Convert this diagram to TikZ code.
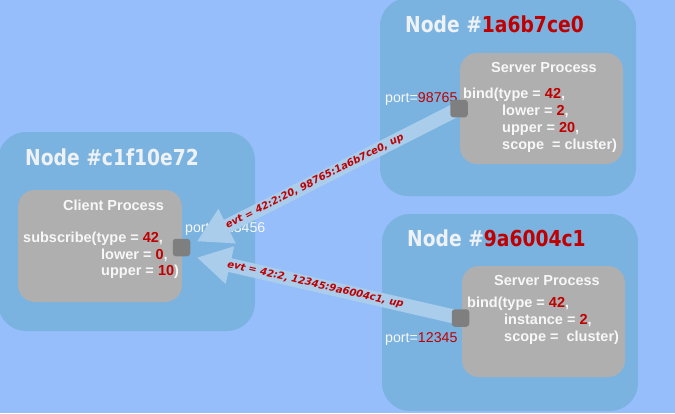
\documentclass[tikz,border=0pt]{standalone}
\usepackage{fontspec}
\setmainfont{Liberation Sans}
\newfontfamily\titlefont{DejaVu Sans Bold}[FakeStretch=0.85]
\newfontfamily\lblfont{DejaVu Sans Bold Oblique}
\usetikzlibrary{arrows.meta,calc}
\definecolor{bgc}{HTML}{95BEFB}
\definecolor{nodec}{HTML}{7BB3E0}
\definecolor{procc}{HTML}{AFAFAF}
\definecolor{portc}{HTML}{7F7F7F}
\definecolor{arrc}{HTML}{A9CDEB}
\definecolor{redc}{HTML}{C00000}
\definecolor{titc}{HTML}{EEF2F5}
\definecolor{txtc}{HTML}{F7F7F7}
\pgfdeclarelayer{front}
\pgfsetlayers{main,front}
\tikzset{
  hostbox/.style={fill=nodec, rounded corners=28pt, inner sep=0pt, outer sep=0pt},
  procbox/.style={fill=procc, rounded corners=17pt, inner sep=0pt, outer sep=0pt},
  portsq/.style={fill=portc, rounded corners=3pt, minimum size=17.5pt, inner sep=0pt, outer sep=0pt},
  hosttitle/.style={anchor=base west, inner sep=0pt, text=titc, font=\titlefont\fontsize{22}{26}\selectfont},
  proctitle/.style={anchor=base west, inner sep=0pt, text=txtc, font=\bfseries\fontsize{14.5}{17}\selectfont},
  code/.style={anchor=base west, inner sep=0pt, text=txtc, font=\bfseries\fontsize{14.5}{17}\selectfont},
  portlbl/.style={anchor=base west, inner sep=0pt, text=txtc, font=\fontsize{14.2}{17}\selectfont},
  conn/.style={draw=arrc, line width=14pt, -{Triangle[length=34pt,width=36pt,fill=arrc]}},
  connlbl/.style={sloped, inner sep=0pt, text=redc, font=\lblfont\fontsize{10}{12}\selectfont}
}
\begin{document}
\begin{tikzpicture}[x=1pt,y=-1pt]
\useasboundingbox (0,0) rectangle (675,413);
\fill[bgc] (0,0) rectangle (675,413);

% host boxes
\node[hostbox, minimum width=257pt, minimum height=199pt] (hc) at (126.5,231.5) {};
\node[hostbox, minimum width=256pt, minimum height=198pt] (h1) at (508,97) {};
\node[hostbox, minimum width=256pt, minimum height=197pt] (h2) at (510,312.5) {};

% process boxes
\node[procbox, minimum width=164pt, minimum height=112pt] (pcbox) at (100,246) {};
\node[procbox, minimum width=163pt, minimum height=111pt] (ps1) at (541.5,108.5) {};
\node[procbox, minimum width=163pt, minimum height=111pt] (ps2) at (543.5,321.5) {};

% host titles
\node[hosttitle] (tc) at (25,165) {Node \#c1f10e72};
\node[hosttitle] (t1) at (405,32) {Node \#\textcolor{redc}{1a6b7ce0}};
\node[hosttitle] (t2) at (407,246) {Node \#\textcolor{redc}{9a6004c1}};

% client process text
\node[proctitle] (ctitle) at (63,210) {Client Process};
\node[code] (cl1) at (23,242.5) {subscribe(type = \textcolor{redc}{42},};
\node[code] (cl2) at (101,259) {lower = \textcolor{redc}{0},};
\node[code] (cl3) at (101,275.5) {upper = \textcolor{redc}{10})};

% server 1 text
\node[proctitle] (s1title) at (491,72) {Server Process};
\node[code] (s1l1) at (463,98) {bind(type = \textcolor{redc}{42},};
\node[code] (s1l2) at (502,115) {lower = \textcolor{redc}{2},};
\node[code] (s1l3) at (502,132) {upper = \textcolor{redc}{20},};
\node[code] (s1l4) at (502,149.5) {scope\ \ = cluster)};

% server 2 text
\node[proctitle] (s2title) at (494,285) {Server Process};
\node[code] (s2l1) at (467,307.5) {bind(type = \textcolor{redc}{42},};
\node[code] (s2l2) at (504,324.5) {instance = \textcolor{redc}{2},};
\node[code] (s2l3) at (504,341.5) {scope =\ \ cluster)};

% port labels
\node[portlbl] (pl1) at (385,102) {port=\textcolor{redc}{98765}};
\node[portlbl] (pl2) at (385,342) {port=\textcolor{redc}{12345}};
\node[portlbl] (plc) at (185,232) {port=123456};

% ports (front layer)
\begin{pgfonlayer}{front}
\node[portsq] (pc) at (181.5,247.5) {};
\node[portsq] (p1) at (459,108.5) {};
\node[portsq] (p2) at (460.5,318) {};
\end{pgfonlayer}

\coordinate (tip1) at ($(pc.east)+(6.5,-6)$);
\coordinate (tip2) at ($(pc.east)+(6.5,10)$);

\draw[conn] (p1.center) -- (tip1)
  node[connlbl, pos=0.55] (e1) {evt = 42:2:20, 98765:1a6b7ce0, up};
\draw[conn] (p2.center) -- (tip2)
  node[connlbl, pos=0.55] (e2) {evt = 42:2, 12345:9a6004c1, up};
\end{tikzpicture}
\end{document}
